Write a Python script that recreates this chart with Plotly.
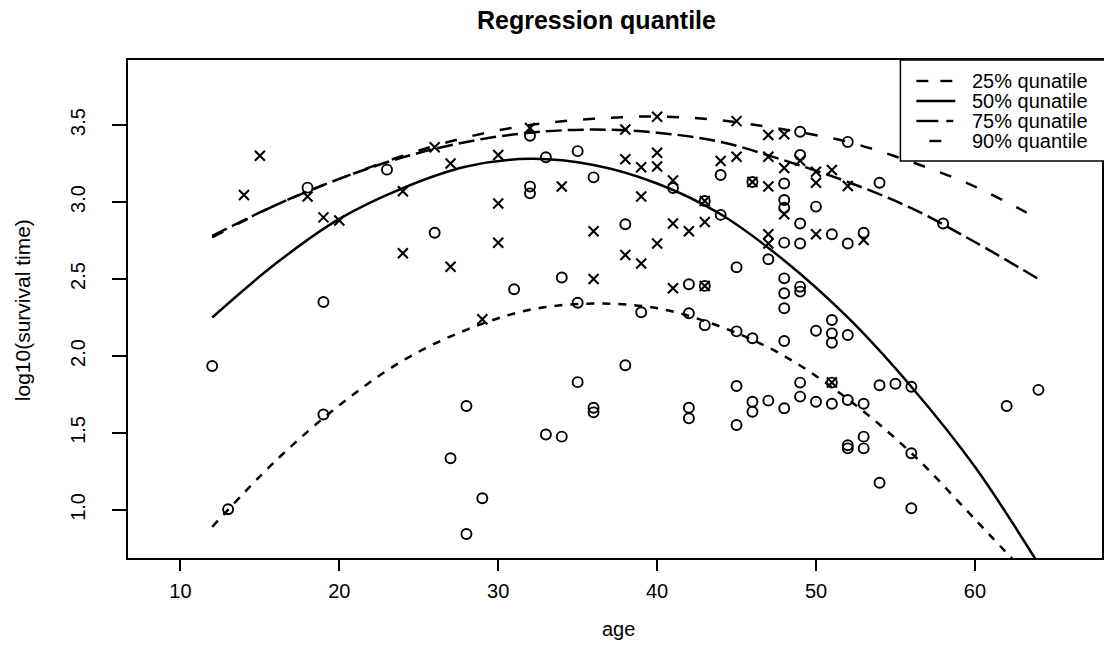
import plotly.graph_objects as go

# ---------------- data ----------------
circle_age = [12, 13, 18, 19, 19, 23, 26, 27, 28, 28, 29, 31, 32, 32, 32, 33, 33, 34, 34,
              35, 35, 35, 36, 36, 36, 38, 38, 39, 41, 42, 42, 42, 42, 43, 43, 43, 44, 44,
              45, 45, 45, 45, 46, 46, 46, 46, 47, 47, 48, 48, 48, 48, 48, 48, 48, 48, 48,
              49, 49, 49, 49, 49, 49, 49, 49, 50, 50, 50, 51, 51, 51, 51, 51, 51, 52, 52,
              52, 52, 52, 52, 53, 53, 53, 53, 54, 54, 54, 55, 56, 56, 56, 58, 62, 64]
circle_logt = [1.935, 1.005, 3.093, 2.35, 1.62, 3.21, 2.80, 1.336, 1.675, 0.844, 1.076, 2.433,
               3.43, 3.10, 3.056, 3.29, 1.49, 2.51, 1.476, 3.33, 2.346, 1.83, 3.16, 1.664, 1.634,
               2.855, 1.94, 2.284, 3.09, 2.466, 2.277, 1.664, 1.595, 3.006, 2.455, 2.20, 3.175,
               2.916, 2.576, 2.16, 1.805, 1.552, 3.13, 2.115, 1.703, 1.638, 2.628, 1.71, 3.12,
               3.013, 2.963, 2.736, 2.504, 2.407, 2.31, 2.097, 1.66, 3.456, 3.305, 2.86, 2.73,
               2.45, 2.418, 1.827, 1.736, 2.97, 2.164, 1.703, 2.79, 2.234, 2.147, 2.086, 1.827,
               1.69, 3.39, 2.73, 2.136, 1.714, 1.42, 1.40, 2.80, 1.69, 1.476, 1.40, 3.125, 1.81,
               1.177, 1.82, 1.80, 1.368, 1.011, 2.86, 1.675, 1.78]

cross_age = [14, 15, 18, 19, 20, 24, 24, 26, 27, 27, 29, 30, 30, 30, 32, 34, 36, 36, 38, 38,
             38, 39, 39, 39, 40, 40, 40, 40, 41, 41, 41, 42, 43, 43, 43, 44, 45, 45, 46, 47,
             47, 47, 47, 47, 48, 48, 48, 49, 50, 50, 50, 51, 51, 52, 53]
cross_logt = [3.045, 3.30, 3.035, 2.90, 2.88, 3.07, 2.667, 3.355, 3.25, 2.58, 2.238, 3.305,
              2.99, 2.735, 3.48, 3.10, 2.81, 2.50, 3.47, 3.277, 2.656, 3.225, 3.035, 2.60,
              3.554, 3.32, 3.23, 2.73, 3.14, 2.86, 2.44, 2.81, 3.006, 2.87, 2.455, 3.266,
              3.525, 3.294, 3.13, 3.435, 3.294, 3.10, 2.79, 2.73, 3.44, 3.22, 2.92, 3.268,
              3.197, 3.125, 2.79, 3.208, 1.827, 3.104, 2.753]

curve_age = [12, 16, 20, 24, 28, 32, 36, 40, 44, 48, 52, 56, 60, 64]
q25 = [0.89, 1.32, 1.68, 1.97, 2.17, 2.30, 2.34, 2.31, 2.19, 2.00, 1.72, 1.37, 0.94, 0.50]
q50 = [2.25, 2.60, 2.89, 3.09, 3.23, 3.28, 3.24, 3.12, 2.92, 2.62, 2.25, 1.80, 1.28, 0.65]
q75 = [2.78, 2.98, 3.15, 3.29, 3.39, 3.45, 3.47, 3.45, 3.39, 3.27, 3.13, 2.96, 2.74, 2.50]
q90 = [2.77, 2.98, 3.15, 3.30, 3.42, 3.50, 3.54, 3.555, 3.53, 3.47, 3.39, 3.26, 3.10, 2.89]

legend_labels = ["25% qunatile", "50% qunatile", "75% qunatile", "90% quantile"]
x_ticks = [10, 20, 30, 40, 50, 60]
y_ticks = [1.0, 1.5, 2.0, 2.5, 3.0, 3.5]

# ---------------- layout geometry (pixels) ----------------
W, H = 1104, 651
L, R, T, B = 128, 0, 60, 93
PW, PH = W - L - R, H - T - B


def px(xp):
    return (xp - L) / PW


def py(yp):
    return (H - B - yp) / PH


FONT = "Liberation Sans, Arial, sans-serif"
BLACK = "#000000"

fig = go.Figure()

curve_styles = [
    (q25, "8px,8px"),
    (q50, "solid"),
    (q75, "16px,6px"),
    (q90, "12px,16px"),
]
for vals, dash in curve_styles:
    fig.add_trace(go.Scatter(x=curve_age, y=vals, mode="lines", line_shape="spline",
                             line=dict(color=BLACK, width=2.5, dash=dash),
                             showlegend=False, hoverinfo="skip"))

fig.add_trace(go.Scatter(x=circle_age, y=circle_logt, mode="markers",
                         marker=dict(symbol="circle-open", size=10, color=BLACK,
                                     line=dict(width=1.9, color=BLACK)),
                         showlegend=False))
fig.add_trace(go.Scatter(x=cross_age, y=cross_logt, mode="markers",
                         marker=dict(symbol="x-thin-open", size=10, color=BLACK,
                                     line=dict(width=2.1, color=BLACK)),
                         showlegend=False))

# ---------------- manual legend ----------------
shapes = []
annotations = []
shapes.append(dict(type="rect", xref="paper", yref="paper",
                   x0=px(902), x1=px(1120), y0=py(161), y1=py(60),
                   line=dict(color=BLACK, width=1.5), fillcolor="white", layer="above"))
leg_y = [81, 101, 121, 141]
leg_samples = [
    [(918, 930), (942, 954)],
    [(918, 957)],
    [(918, 940), (948, 955)],
    [(931, 943)],
]
for yy, segs, lab in zip(leg_y, leg_samples, legend_labels):
    for a, b in segs:
        shapes.append(dict(type="line", xref="paper", yref="paper",
                           x0=px(a), x1=px(b), y0=py(yy), y1=py(yy),
                           line=dict(color=BLACK, width=2.4), layer="above"))
    annotations.append(dict(text=lab, xref="paper", yref="paper", x=px(973), y=py(yy),
                            xanchor="left", yanchor="middle", showarrow=False,
                            borderpad=0,
                            font=dict(family=FONT, size=20, color=BLACK)))

annotations.append(dict(text="<b>Regression quantile</b>", xref="paper", yref="paper",
                        x=px(597), y=py(20), xanchor="center", yanchor="middle",
                        showarrow=False, font=dict(family=FONT, size=25, color=BLACK)))
annotations.append(dict(text="age", xref="paper", yref="paper",
                        x=px(620), y=py(629), xanchor="center", yanchor="middle",
                        showarrow=False, font=dict(family=FONT, size=20, color=BLACK)))
annotations.append(dict(text="log10(survival time)", xref="paper", yref="paper",
                        x=px(22), y=py(310), xanchor="center", yanchor="middle",
                        textangle=-90, showarrow=False,
                        font=dict(family=FONT, size=21, color=BLACK)))

fig.update_layout(
    width=W, height=H,
    margin=dict(l=L, r=R, t=T, b=B),
    paper_bgcolor="white", plot_bgcolor="white",
    font=dict(family=FONT, size=20, color=BLACK),
    shapes=shapes, annotations=annotations,
    showlegend=False,
)
fig.update_xaxes(range=[6.7, 68.0], tickvals=x_ticks, ticktext=[str(v) for v in x_ticks],
                 ticks="outside", ticklen=11, tickwidth=1.5, tickcolor=BLACK,
                 showline=True, linecolor=BLACK, linewidth=1.5, mirror=True,
                 showgrid=False, zeroline=False, ticklabelstandoff=3,
                 tickfont=dict(family=FONT, size=20, color=BLACK))
fig.update_yaxes(range=[0.688, 3.922], tickvals=y_ticks,
                 ticktext=[f"{v:.1f}" for v in y_ticks],
                 ticks="outside", ticklen=14, tickwidth=1.5, tickcolor=BLACK,
                 showline=True, linecolor=BLACK, linewidth=1.5, mirror=True,
                 showgrid=False, zeroline=False, tickangle=-90, ticklabelstandoff=19,
                 tickfont=dict(family=FONT, size=20, color=BLACK))

fig.write_html(
    "out.html",
    config={"displayModeBar": False},
    post_script=(
        "document.documentElement.style.margin='0';"
        "document.body.style.margin='0';"
        "document.body.style.padding='0';"
        "document.body.style.overflow='hidden';"
    ),
)
